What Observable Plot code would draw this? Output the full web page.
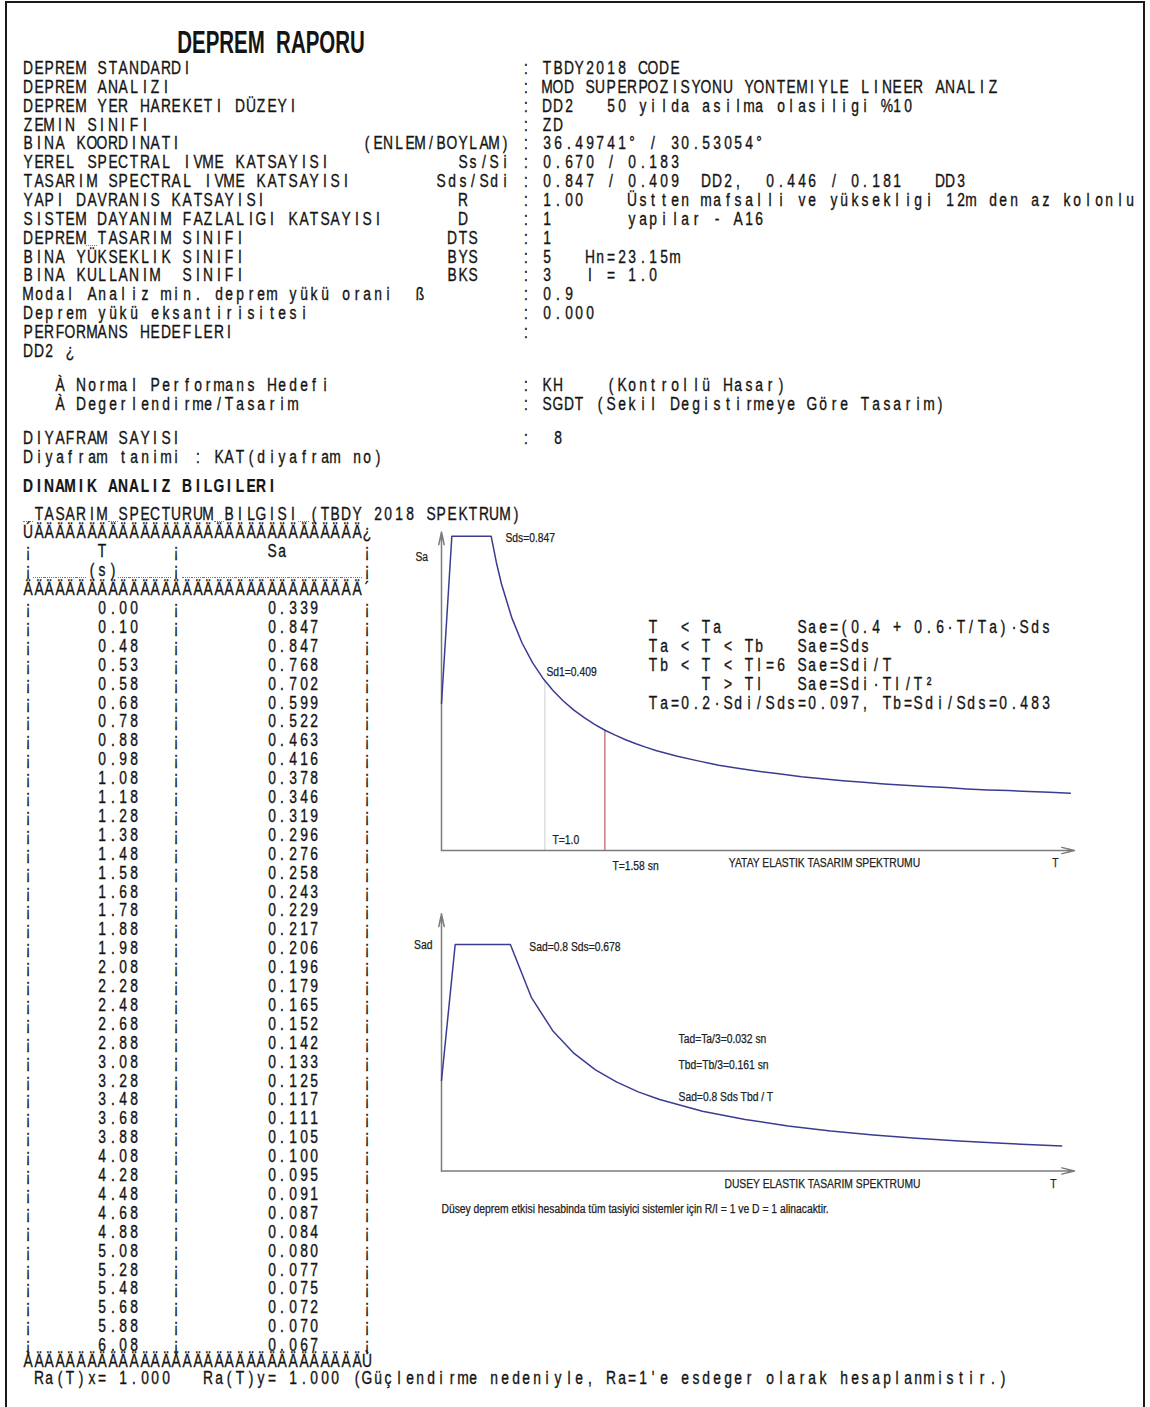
<!DOCTYPE html>
<html><head><meta charset="utf-8">
<script src="https://cdn.jsdelivr.net/npm/d3@7"></script>
<script src="https://cdn.jsdelivr.net/npm/@observablehq/plot@0.6"></script>
<style>
html,body{margin:0;padding:0;background:#fff;}
#page{position:relative;width:1150px;height:1407px;overflow:hidden;font-family:"Liberation Sans",Arial,sans-serif;color:#141414;}
.frame{position:absolute;left:5px;top:1px;width:1140px;height:1430px;border:2.5px solid #1a1a1a;box-sizing:border-box;}
.ch{position:absolute;width:20px;height:20px;line-height:20px;text-align:center;font-size:17.5px;transform:scaleX(.79);white-space:pre;-webkit-text-stroke:0.35px #141414;}
.ch.b{font-weight:bold;-webkit-text-stroke:0.2px #141414;}
.us{position:absolute;height:0;border-top:1.5px dotted #777;}
#title{position:absolute;left:121px;top:25px;width:300px;height:36px;line-height:36px;text-align:center;font-size:31px;font-weight:bold;transform:scaleX(.66);white-space:pre;}
.chart{position:absolute;}
</style></head>
<body><div id="page"><div class="frame"></div><div id="title">DEPREM  RAPORU</div></div>
<script>
const periodT = [0.00,0.10,0.48,0.53,0.58,0.68,0.78,0.88,0.98,1.08,1.18,1.28,1.38,1.48,1.58,1.68,1.78,1.88,1.98,2.08,2.28,2.48,2.68,2.88,3.08,3.28,3.48,3.68,3.88,4.08,4.28,4.48,4.68,4.88,5.08,5.28,5.48,5.68,5.88,6.08];
const spectrumSa = [0.339,0.847,0.847,0.768,0.702,0.599,0.522,0.463,0.416,0.378,0.346,0.319,0.296,0.276,0.258,0.243,0.229,0.217,0.206,0.196,0.179,0.165,0.152,0.142,0.133,0.125,0.117,0.111,0.105,0.100,0.095,0.091,0.087,0.084,0.080,0.077,0.075,0.072,0.070,0.067];
// vertical spectrum curve
const verticalT = [0,0.032,0.161,0.21,0.26,0.31,0.36,0.41,0.46,0.51,0.61,0.71,0.81,0.91,1.01,1.11,1.21,1.31,1.45];
const verticalSad = [0.271,0.678,0.678,0.520,0.420,0.352,0.303,0.266,0.237,0.214,0.179,0.154,0.135,0.120,0.108,0.098,0.090,0.083,0.075];
const Sds = 0.847, Sd1 = 0.409, Sad = 0.678;
const markT = [1.0, 1.58];

// report text lines: [column, text] pieces
const headerLines = [
  [[0,"DEPREM STANDARDI"],[47,": TBDY2018 CODE"]],
  [[0,"DEPREM ANALIZI"],[47,": MOD SUPERPOZISYONU YONTEMIYLE LINEER ANALIZ"]],
  [[0,"DEPREM YER HAREKETI DÜZEYI"],[47,": DD2   50 yilda asilma olasiligi %10"]],
  [[0,"ZEMIN SINIFI"],[47,": ZD"]],
  [[0,"BINA KOORDINATI"],[32,"(ENLEM/BOYLAM)"],[47,": 36.49741° / 30.53054°"]],
  [[0,"YEREL SPECTRAL IVME KATSAYISI"],[41,"Ss/Si"],[47,": 0.670 / 0.183"]],
  [[0,"TASARIM SPECTRAL IVME KATSAYISI"],[39,"Sds/Sdi"],[47,": 0.847 / 0.409  DD2,  0.446 / 0.181   DD3"]],
  [[0,"YAPI DAVRANIS KATSAYISI"],[41,"R"],[47,": 1.00    Üstten mafsalli ve yüksekligi 12m den az kolonlu"]],
  [[0,"SISTEM DAYANIM FAZLALIGI KATSAYISI"],[41,"D"],[47,": 1       yapilar - A16"]],
  [[0,"DEPREM_TASARIM SINIFI"],[40,"DTS"],[47,": 1"]],
  [[0,"BINA YÜKSEKLIK SINIFI"],[40,"BYS"],[47,": 5   Hn=23.15m"]],
  [[0,"BINA KULLANIM  SINIFI"],[40,"BKS"],[47,": 3   I = 1.0"]],
  [[0,"Modal Analiz min. deprem yükü orani"],[37,"ß"],[47,": 0.9"]],
  [[0,"Deprem yükü eksantirisitesi"],[47,": 0.000"]],
  [[0,"PERFORMANS HEDEFLERI"],[47,":"]],
  [[0,"DD2 ¿"]]
];
const lowerHeader = [
  {y:385, parts:[[3,"À Normal Performans Hedefi"],[47,": KH    (Kontrollü Hasar)"]]},
  {y:403.5, parts:[[3,"À Degerlendirme/Tasarim"],[47,": SGDT (Sekil Degistirmeye Göre Tasarim)"]]},
  {y:438, parts:[[0,"DIYAFRAM SAYISI"],[47,":  8"]]},
  {y:457, parts:[[0,"Diyafram tanimi : KAT(diyafram no)"]]},
  {y:486, parts:[[0,"DINAMIK ANALIZ BILGILERI"]], bold:true},
  {y:514, parts:[[0,"_TASARIM_SPECTURUM_BILGISI_(TBDY 2018 SPEKTRUM)"]]}
];
const formulaLines = [
  "T  < Ta       Sae=(0.4 + 0.6·T/Ta)·Sds",
  "Ta < T < Tb   Sae=Sds",
  "Tb < T < Tl=6 Sae=Sdi/T",
  "     T > Tl   Sae=Sdi·Tl/T²",
  "Ta=0.2·Sdi/Sds=0.097, Tb=Sdi/Sds=0.483"
];
const footerLine = " Ra(T)x= 1.000   Ra(T)y= 1.000 (Güçlendirme nedeniyle, Ra=1'e esdeger olarak hesaplanmistir.)";

// ---------- typewriter grid ----------
const page = document.getElementById("page");
const P = 10.6, X0 = 28;
const colX = c => X0 + c*P;
function put(str, col, y, bold){
  for (let i=0;i<str.length;i++){
    const ch = str[i];
    if (ch === " ") continue;
    const x = colX(col+i);
    if (ch === "_"){
      const d = document.createElement("div");
      d.className = "us"; d.style.left = (x-P/2)+"px"; d.style.width = P+"px"; d.style.top = (y+7)+"px";
      page.appendChild(d); continue;
    }
    const s = document.createElement("span");
    s.className = "ch" + (bold ? " b" : "");
    s.textContent = ch;
    s.style.left = (x-10)+"px"; s.style.top = (y-10)+"px";
    page.appendChild(s);
  }
}
headerLines.forEach((parts,k)=>parts.forEach(([c,t])=>put(t,c,68+18.85*k)));
lowerHeader.forEach(l=>l.parts.forEach(([c,t])=>put(t,c,l.y,l.bold)));

// table
const rowY0 = 608, rowH = 18.9;
put("Ú"+"Ä".repeat(31)+"¿", 0, rowY0-4*rowH);
put("¡", 0, rowY0-3*rowH); put("T", 7, rowY0-3*rowH); put("¡", 14, rowY0-3*rowH); put("Sa", 23, rowY0-3*rowH); put("¡", 32, rowY0-3*rowH);
put("¡_____(s)_____¡_________________¡", 0, rowY0-2*rowH);
put("Ä".repeat(32)+"´", 0, rowY0-rowH);
periodT.forEach((t,i)=>{
  const y = rowY0 + i*rowH;
  put("¡",0,y); put(t.toFixed(2),7,y); put("¡",14,y); put(spectrumSa[i].toFixed(3),23,y); put("¡",32,y);
});
const lastY = rowY0 + (periodT.length-1)*rowH;
put("À"+"Ä".repeat(31)+"Ù", 0, lastY+16);
put(footerLine, 0, lastY+33);
formulaLines.forEach((t,i)=>put(t, 59, rowY0 + (i+1)*rowH));

// ---------- charts ----------
const fontStyle = {background:"transparent", fontFamily:"'Liberation Sans', Arial, sans-serif", fontSize:"12px", color:"#222", overflow:"visible"};
const curveColor = "#3b3b92", axisColor = "#7c7c7c";

// top: horizontal elastic design spectrum
const topData = periodT.map((t,i)=>({T:t, Sa:spectrumSa[i]}));
const yLoTop = -0.107, yHiTop = 0.86, xHiTop = 6.12;
const selT = markT.map(t=>({T:t, Sa: t===1.0 ? Sd1 : spectrumSa[periodT.indexOf(t)], lo:yLoTop}));
const chartTop = Plot.plot({
  width:700, height:420, marginLeft:41, marginRight:26, marginTop:61.4, marginBottom:40,
  style:fontStyle,
  x:{domain:[0,xHiTop], axis:null}, y:{domain:[yLoTop,yHiTop], axis:null},
  marks:[
    Plot.ruleX([selT[0]], {x:"T", y1:"lo", y2:"Sa", stroke:"#cdcdcd", strokeWidth:1}),
    Plot.ruleX([selT[1]], {x:"T", y1:"lo", y2:"Sa", stroke:"#b23b3b", strokeWidth:1}),
    Plot.arrow([{a:0,b:yLoTop,c:xHiTop,d:yLoTop}], {x1:"a",y1:"b",x2:"c",y2:"d",stroke:axisColor,strokeWidth:1.5,headLength:13,headAngle:28}),
    Plot.arrow([{a:0,b:yLoTop,c:0,d:yHiTop}], {x1:"a",y1:"b",x2:"c",y2:"d",stroke:axisColor,strokeWidth:1.5,headLength:13,headAngle:24}),
    Plot.line(topData, {x:"T", y:"Sa", stroke:curveColor, strokeWidth:1.5}),
    Plot.text([{T:periodT[2], Sa:Sds}], {x:"T", y:"Sa", text:()=>"Sds=0.847", textAnchor:"start", dx:14.3, dy:2.3}),
    Plot.text([selT[0]], {x:"T", y:"Sa", text:()=>"Sd1=0.409", textAnchor:"start", dx:1.5, dy:-8}),
    Plot.text([selT[0]], {x:"T", y:"lo", text:()=>"T=1.0", textAnchor:"start", dx:7.5, dy:-10}),
    Plot.text([selT[1]], {x:"T", y:"lo", text:()=>"T=1.58 sn", textAnchor:"start", dx:7.5, dy:16}),
    Plot.text(["YATAY ELASTIK TASARIM SPEKTRUMU"], {text:d=>d, frameAnchor:"bottom", dx:66.5, dy:16}),
    Plot.text(["T"], {text:d=>d, frameAnchor:"bottom-right", dx:-16, dy:16}),
    Plot.text(["Sa"], {text:d=>d, frameAnchor:"top-left", dx:-26, dy:20.6})
  ]
});
const boxTop = document.createElement("div");
boxTop.className = "chart"; boxTop.style.left = "400px"; boxTop.style.top = "470px";
boxTop.appendChild(chartTop); page.appendChild(boxTop);

// bottom: vertical elastic design spectrum
const botData = verticalT.map((t,i)=>({T:t, Sad:verticalSad[i]}));
const yHiBot = 0.77, xHiBot = 1.48;
const chartBot = Plot.plot({
  width:700, height:340, marginLeft:41, marginRight:26, marginTop:23.3, marginBottom:59.5,
  style:fontStyle,
  x:{domain:[0,xHiBot], axis:null}, y:{domain:[0,yHiBot], axis:null},
  marks:[
    Plot.arrow([{a:0,b:0,c:xHiBot,d:0}], {x1:"a",y1:"b",x2:"c",y2:"d",stroke:axisColor,strokeWidth:1.5,headLength:13,headAngle:28}),
    Plot.arrow([{a:0,b:0,c:0,d:yHiBot}], {x1:"a",y1:"b",x2:"c",y2:"d",stroke:axisColor,strokeWidth:1.5,headLength:13,headAngle:24}),
    Plot.line(botData, {x:"T", y:"Sad", stroke:curveColor, strokeWidth:1.5}),
    Plot.text([{T:verticalT[2], Sad:Sad}], {x:"T", y:"Sad", text:()=>"Sad=0.8 Sds=0.678", textAnchor:"start", dx:19, dy:3}),
    Plot.text(["Tad=Ta/3=0.032 sn"], {text:d=>d, frameAnchor:"top-left", textAnchor:"start", dx:237, dy:120.7}),
    Plot.text(["Tbd=Tb/3=0.161 sn"], {text:d=>d, frameAnchor:"top-left", textAnchor:"start", dx:237, dy:146.7}),
    Plot.text(["Sad=0.8 Sds Tbd / T"], {text:d=>d, frameAnchor:"top-left", textAnchor:"start", dx:237, dy:178.7}),
    Plot.text(["DUSEY ELASTIK TASARIM SPEKTRUMU"], {text:d=>d, frameAnchor:"bottom", dx:64.5, dy:16.5}),
    Plot.text(["T"], {text:d=>d, frameAnchor:"bottom-right", dx:-18, dy:16.5}),
    Plot.text(["Sad"], {text:d=>d, frameAnchor:"top-left", dx:-27.5, dy:26.7}),
    Plot.text(["Düsey deprem etkisi hesabinda tüm tasiyici sistemler için R/I = 1 ve D = 1 alinacaktir."], {text:d=>d, frameAnchor:"bottom-left", textAnchor:"start", dx:0, dy:41.5})
  ]
});
const boxBot = document.createElement("div");
boxBot.className = "chart"; boxBot.style.left = "400px"; boxBot.style.top = "890px";
boxBot.appendChild(chartBot); page.appendChild(boxBot);

// condensed, slightly heavier look for the drawing labels
[chartTop, chartBot].forEach(svg => svg.querySelectorAll("text").forEach(t => {
  const w = t.getComputedTextLength();
  if (w > 0){ t.setAttribute("textLength", (w*0.86).toFixed(1)); t.setAttribute("lengthAdjust","spacingAndGlyphs"); }
  t.setAttribute("stroke", "#222"); t.setAttribute("stroke-width", "0.25");
}));
</script>
</body></html>
